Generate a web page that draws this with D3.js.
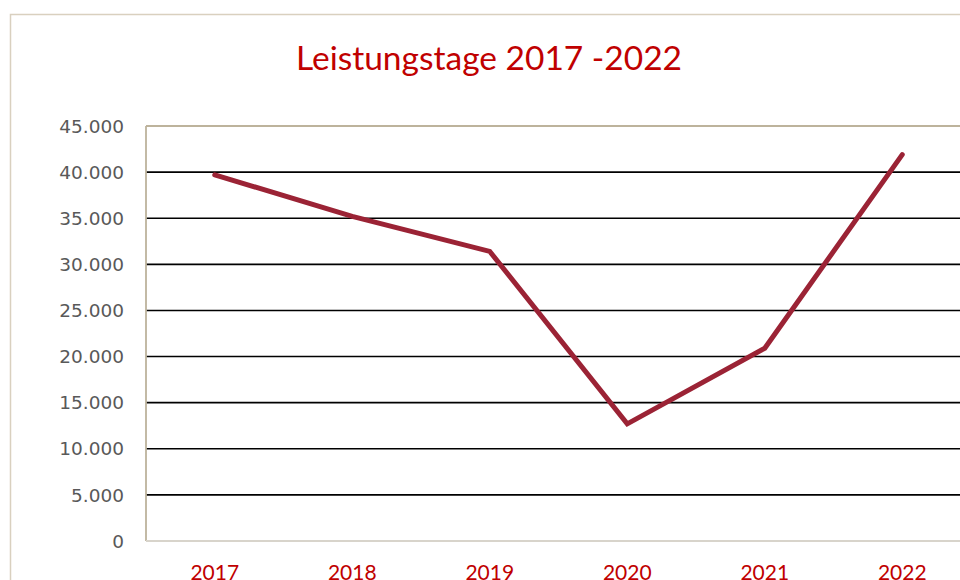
<!DOCTYPE html>
<html>
<head>
<meta charset="utf-8">
<script src="https://cdn.jsdelivr.net/npm/d3@7"></script>
<style>
  body { margin: 0; background: #fff; }
  svg { display: block; font-family: Lato, "Open Sans", sans-serif; }
</style>
</head>
<body>
<div id="chart"></div>
<script>
// chart data
const years = ['2017', '2018', '2019', '2020', '2021', '2022'];
const leistungstage = [39700, 35200, 31400, 12700, 20900, 41900];
const yTicks = [0, 5000, 10000, 15000, 20000, 25000, 30000, 35000, 40000, 45000];

const width = 960, height = 580;
const margin = {top: 126, left: 146, bottom: 541, right: 971}; // plot edges

const svg = d3.select('#chart').append('svg')
    .attr('width', width)
    .attr('height', height);

// outer chart frame
svg.append('rect')
    .attr('x', 10.5).attr('y', 14.5)
    .attr('width', 980).attr('height', 600)
    .attr('fill', 'none')
    .attr('stroke', '#d9d0bf')
    .attr('stroke-width', 1.5);

const x = d3.scaleBand()
    .domain(years)
    .range([margin.left, margin.right]);

const y = d3.scaleLinear()
    .domain([0, 45000])
    .range([margin.bottom, margin.top]);

const fmt = d3.formatLocale({decimal: ',', thousands: '.', grouping: [3], currency: ['', '€']}).format(',');

// gridlines (black), skip top and zero
svg.append('g')
    .selectAll('line')
    .data(yTicks.filter(d => d > 0 && d < 45000))
    .join('line')
    .attr('x1', margin.left).attr('x2', width)
    .attr('y1', d => y(d)).attr('y2', d => y(d))
    .attr('stroke', '#000')
    .attr('stroke-width', 1.6);

// top border of plot area
svg.append('line')
    .attr('x1', margin.left).attr('x2', width)
    .attr('y1', y(45000)).attr('y2', y(45000))
    .attr('stroke', '#bdb39c').attr('stroke-width', 1.8);

// left axis line
svg.append('line')
    .attr('x1', margin.left).attr('x2', margin.left)
    .attr('y1', y(45000)).attr('y2', y(0))
    .attr('stroke', '#bdb39c').attr('stroke-width', 1.8);

// bottom axis line
svg.append('line')
    .attr('x1', margin.left).attr('x2', width)
    .attr('y1', y(0)).attr('y2', y(0))
    .attr('stroke', '#d8d4cb').attr('stroke-width', 1.8);

// y tick labels
svg.append('g')
    .selectAll('text')
    .data(yTicks)
    .join('text')
    .attr('x', 124)
    .attr('y', d => y(d))
    .attr('dy', '0.36em')
    .attr('text-anchor', 'end')
    .attr('fill', '#595959')
    .style('font-family', '"DejaVu Sans", sans-serif')
    .style('font-size', '18.5px')
    .text(d => fmt(d));

// x labels (cut at the bottom edge, as in the original)
svg.append('g')
    .selectAll('text')
    .data(years)
    .join('text')
    .attr('x', d => x(d) + x.bandwidth() / 2)
    .attr('y', 580)
    .attr('text-anchor', 'middle')
    .attr('fill', '#c00000')
    .style('font-size', '21px')
    .text(d => d);

// line
const line = d3.line()
    .x((d, i) => x(years[i]) + x.bandwidth() / 2)
    .y(d => y(d));

svg.append('path')
    .datum(leistungstage)
    .attr('d', line)
    .attr('fill', 'none')
    .attr('stroke', '#9b2335')
    .attr('stroke-width', 5)
    .attr('stroke-linecap', 'round')
    .attr('stroke-linejoin', 'miter');

// title
svg.append('text')
    .attr('x', 489)
    .attr('y', 70)
    .attr('text-anchor', 'middle')
    .attr('fill', '#c00000')
    .style('font-size', '33.5px')
    .text('Leistungstage 2017 -2022');
</script>
</body>
</html>
